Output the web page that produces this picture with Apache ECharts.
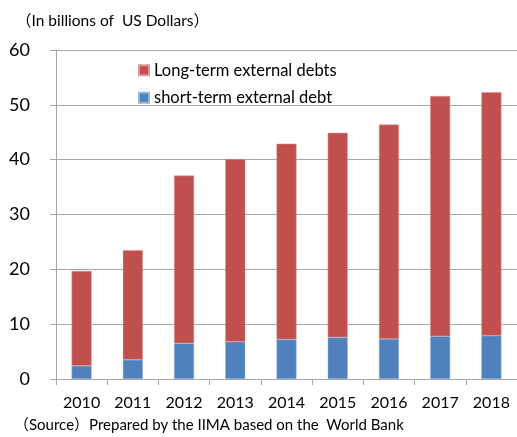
<!DOCTYPE html>
<html><head><meta charset="utf-8">
<script src="https://cdn.jsdelivr.net/npm/echarts@6/dist/echarts.min.js"></script>
<style>html,body{margin:0;padding:0;background:#fff}#c{width:517px;height:437px}</style>
</head><body><div id="c"></div>
<script>
const years = ['2010','2011','2012','2013','2014','2015','2016','2017','2018'];
const shortTerm = [2.4, 3.5, 6.5, 6.8, 7.2, 7.6, 7.3, 7.8, 7.9];
const longTerm = [17.3, 20.0, 30.6, 33.3, 35.7, 37.3, 39.1, 43.8, 44.4];
const yTicks = [0, 10, 20, 30, 40, 50, 60];
const FONT = "Lato, 'Noto Sans CJK JP', sans-serif";
const chart = echarts.init(document.getElementById('c'));
chart.setOption({
  animation: false,
  backgroundColor: '#fff',
  textStyle: { fontFamily: FONT },
  title: [
    { text: '（In billions of  US Dollars）', left: 11, top: 8, textStyle: { fontFamily: FONT, fontSize: 15.5, fontWeight: 'normal', color: '#000' } },
    { text: '（Source）Prepared by the IIMA based on the  World Bank', left: 9, top: 413, textStyle: { fontFamily: FONT, fontSize: 15, fontWeight: 'normal', color: '#000' } }
  ],
  legend: {
    orient: 'vertical', left: 133, top: 57, itemGap: 11,
    itemWidth: 10, itemHeight: 10, icon: 'rect',
    data: ['Long-term external debts', 'short-term external debt'],
    textStyle: { fontFamily: FONT, fontSize: 16.5, color: '#000' }
  },
  grid: { left: 56, right: -3, top: 50, bottom: 58 },
  xAxis: {
    type: 'category', data: years,
    axisLine: { lineStyle: { color: '#a6a6a6', width: 1 } },
    axisTick: { show: true, length: 6, lineStyle: { color: '#a6a6a6' } },
    axisLabel: { fontFamily: FONT, fontSize: 16, color: '#000', margin: 16 }
  },
  yAxis: {
    type: 'value', min: yTicks[0], max: yTicks[yTicks.length - 1], interval: 10,
    axisLine: { show: true, lineStyle: { color: '#a6a6a6' } },
    axisTick: { show: true, length: 6, lineStyle: { color: '#a6a6a6' } },
    splitLine: { lineStyle: { color: '#a6a6a6' } },
    axisLabel: { fontFamily: FONT, fontSize: 18, color: '#000', margin: 26 }
  },
  series: [
    { name: 'short-term external debt', type: 'bar', stack: 't', data: shortTerm, barWidth: 20,
      itemStyle: { color: '#4F81BD', borderColor: '#95b3d7', borderWidth: 0.5 } },
    { name: 'Long-term external debts', type: 'bar', stack: 't', data: longTerm, barWidth: 20,
      itemStyle: { color: '#C0504D', borderColor: '#d99694', borderWidth: 0.5 } }
  ]
});
</script></body></html>
